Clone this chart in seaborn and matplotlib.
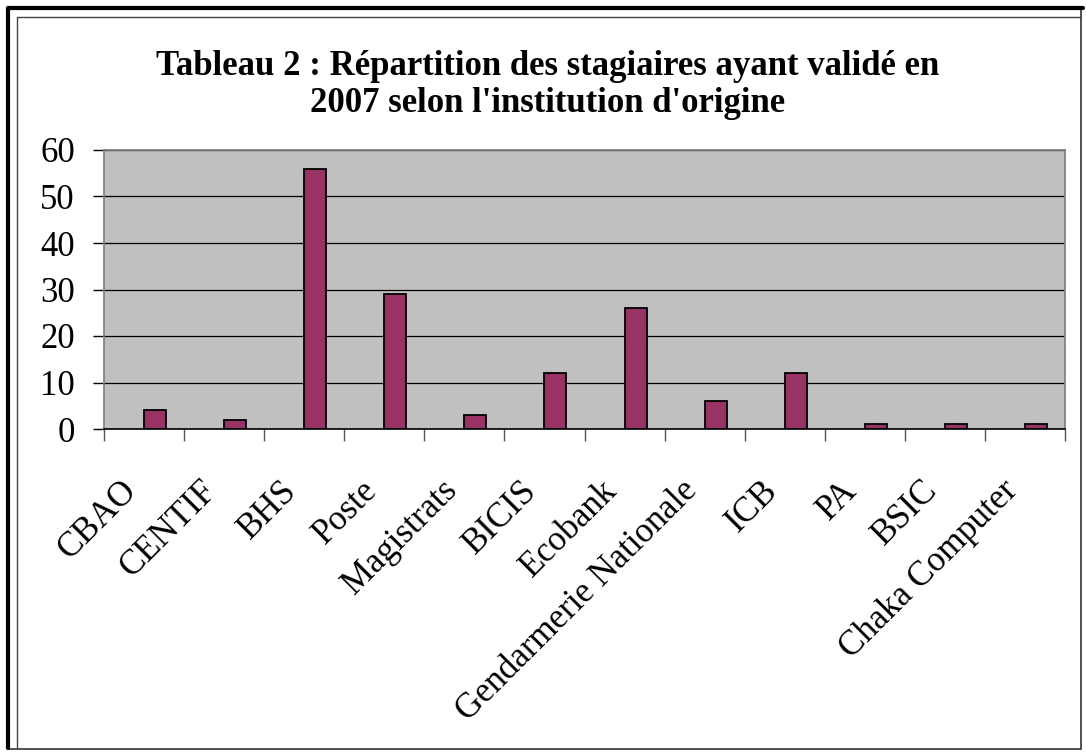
import matplotlib
matplotlib.use("Agg")
import numpy as np
import pandas as pd
import seaborn as sns
import matplotlib.pyplot as plt
import matplotlib.transforms as mtrans
from matplotlib.patches import Rectangle

# Data
institutions = ["CBAO", "CENTIF", "BHS", "Poste", "Magistrats", "BICIS", "Ecobank",
                "Gendarmerie Nationale", "ICB", "PA", "BSIC", "Chaka Computer"]
stagiaires = [4, 2, 56, 29, 3, 12, 26, 6, 12, 1, 1, 1]
title_text = "Tableau 2 : Répartition des stagiaires ayant validé en\n2007 selon l'institution d'origine"

# the original Excel chart has an empty first series, so bars sit right of centre
df = pd.concat([
    pd.DataFrame({"institution": institutions, "valeur": np.nan, "serie": "vide"}),
    pd.DataFrame({"institution": institutions, "valeur": stagiaires, "serie": "stagiaires"}),
], ignore_index=True)

sns.set_theme(style="white")
plt.rcParams["font.family"] = ["Liberation Serif", "DejaVu Serif"]
plt.rcParams["text.color"] = "black"

fig = plt.figure(figsize=(10.86, 7.56), dpi=100)
ax = fig.add_axes([104 / 1086, 1 - 429 / 756, (1065 - 104) / 1086, (429 - 150) / 756])

sns.barplot(data=df, x="institution", y="valeur", hue="serie", hue_order=["vide", "stagiaires"],
            palette={"vide": "#9999ff", "stagiaires": "#993366"}, width=0.55, dodge=True,
            edgecolor="black", linewidth=1.3, saturation=1, legend=False, errorbar=None, ax=ax)

ax.set_facecolor("#c0c0c0")
ax.set_ylim(0, 60)
ax.set_xlim(-0.5, len(institutions) - 0.5)
ax.set_yticks(range(0, 61, 10))
ax.yaxis.grid(True, color="black", linewidth=0.9)
ax.set_axisbelow(True)
for s in ["top", "right", "left"]:
    ax.spines[s].set_color("#808080")
ax.spines["bottom"].set_color("black")
ax.spines["bottom"].set_linewidth(1.2)
ax.set_xlabel("")
ax.set_ylabel("")

# category-boundary ticks on x axis
ax.set_xticks(np.arange(-0.5, len(institutions), 1), minor=True)
ax.tick_params(axis="x", which="minor", length=8.5, width=1, color="#555555", direction="out", bottom=True)
ax.tick_params(axis="x", which="major", length=0, pad=0, labelcolor="black")
ax.tick_params(axis="y", length=8, width=1, color="black", direction="out", left=True,
               labelsize=25, pad=13, labelcolor="black")
ax.set_xticks(range(len(institutions)))
ax.set_xticklabels(institutions, rotation=45, ha="right", va="top", rotation_mode="anchor", fontsize=25)
shift = mtrans.ScaledTranslation(-24 / 100, -45 / 100, fig.dpi_scale_trans)
for lab in ax.get_xticklabels():
    lab.set_transform(lab.get_transform() + shift)

fig.text(0.504, 1 - 85 / 756, title_text, ha="center", va="center", fontsize=25,
         fontweight="bold", linespacing=1.16, color="black")

# frame around the chart
fig.patches.append(Rectangle((8 / 1086, 7 / 756), 1073 / 1086, 742 / 756, transform=fig.transFigure,
                             fill=False, edgecolor="#333333", linewidth=1.2))
fig.lines.append(plt.Line2D([8 / 1086, 8 / 1086, 1083 / 1086], [8 / 756, 748 / 756, 748 / 756],
                            transform=fig.transFigure, color="black", linewidth=3))
fig.lines.append(plt.Line2D([17 / 1086, 17 / 1086, 1081 / 1086], [8 / 756, 739 / 756, 739 / 756],
                            transform=fig.transFigure, color="#444444", linewidth=1))

fig.savefig("out.png", dpi=100)
